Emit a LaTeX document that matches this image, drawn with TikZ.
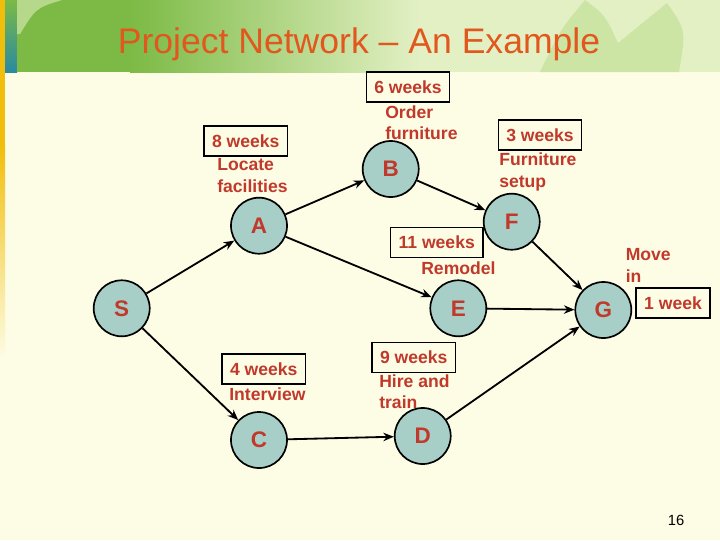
\documentclass[tikz,border=0pt]{standalone}
\usepackage{fontspec}
\setmainfont{Liberation Sans}
\usetikzlibrary{arrows.meta}
\definecolor{cream}{HTML}{FDFDE6}
\definecolor{leafgreen}{HTML}{7CBA45}
\definecolor{palegreen}{HTML}{E3F0C4}
\definecolor{leaflight}{HTML}{CCE5A5}
\definecolor{barteal}{HTML}{2A8AA0}
\definecolor{baryellow}{HTML}{F2BE0C}
\definecolor{eventfill}{HTML}{A7CFC8}
\definecolor{labelred}{HTML}{C0392B}
\definecolor{titleorange}{HTML}{E2571E}
\begin{document}
\begin{tikzpicture}[x=0.025cm,y=-0.025cm,
  event/.style={circle,draw,line width=1.2pt,fill=eventfill,minimum size=1.4cm,inner sep=0pt,
    text=labelred,font=\fontsize{16}{16}\selectfont\bfseries},
  weeks/.style={draw,line width=1pt,text=labelred,font=\fontsize{12.5}{15}\selectfont\bfseries,
    minimum height=0.75cm,inner xsep=0.2cm,inner ysep=0pt},
  task/.style={text=labelred,font=\fontsize{12.5}{15.6}\selectfont\bfseries,
    align=left,anchor=north west,inner sep=0pt},
  arrow/.style={-{Stealth[length=7.5pt,width=6pt]},line width=1.3pt}]
% background and header band
\fill[cream] (0,0) rectangle (720,540);
\fill[baryellow] (0,0) rectangle (5,145);
\shade[top color=baryellow,bottom color=cream] (0,145) rectangle (5,360);
\shade[top color=leafgreen,bottom color=barteal] (5,0) rectangle (17,72);
\fill[palegreen] (17,0) rectangle (720,72);
\fill[leafgreen] (17,0) rectangle (131,72);
\shade[left color=leafgreen,right color=palegreen] (130,0) rectangle (420,72);
\fill[leafgreen!45!palegreen] (17,0) -- (62,0) .. controls (36,8) .. (20,34) -- (17,34) -- cycle;
\fill[leaflight] (540,72) .. controls (560,30) .. (585,0) .. controls (605,15) .. (618,43)
  -- (667,3) .. controls (686,30) .. (679,72) -- cycle;
\node[text=titleorange,font=\fontsize{25.3}{25.3}\selectfont,anchor=base] (title) at (359,53)
  {Project Network -- An Example};
% durations and activities
\node[weeks] (wA) at (245.8,141) {8 weeks};
\node[weeks] (wB) at (408,87) {6 weeks};
\node[weeks] (wF) at (540,135) {3 weeks};
\node[weeks] (wE) at (436.7,242.7) {11 weeks};
\node[weeks] (wG) at (673,303) {1 week};
\node[weeks] (wC) at (263.8,369) {4 weeks};
\node[weeks] (wD) at (413.8,357.3) {9 weeks};
\node[task] (tA) at (217,158.5) {Locate\\facilities};
\node[task] (tB) at (385,105) {Order\\furniture};
\node[task] (tF) at (499,152.5) {Furniture\\setup};
\node[task] (tE) at (421,261) {Remodel};
\node[task] (tG) at (625.5,248.5) {Move\\in};
\node[task] (tC) at (229,387) {Interview};
\node[task] (tD) at (379,374) {Hire and\\train};
% events
\node[event] (S) at (121.7,308.3) {S};
\node[event] (A) at (259,225.7) {A};
\node[event] (B) at (390.7,169) {B};
\node[event] (F) at (511.7,221.7) {F};
\node[event] (E) at (458.3,308.3) {E};
\node[event] (G) at (603.3,310) {G};
\node[event] (C) at (259,440) {C};
\node[event] (D) at (422.7,436) {D};
\foreach \a/\b in {S/A,A/B,A/E,S/C,B/F,F/G,E/G,C/D,D/G}
  \draw[arrow] (\a) -- (\b);
\node[font=\fontsize{10.5}{10.5}\selectfont,anchor=base] (page) at (676,525) {16};
\end{tikzpicture}
\end{document}
